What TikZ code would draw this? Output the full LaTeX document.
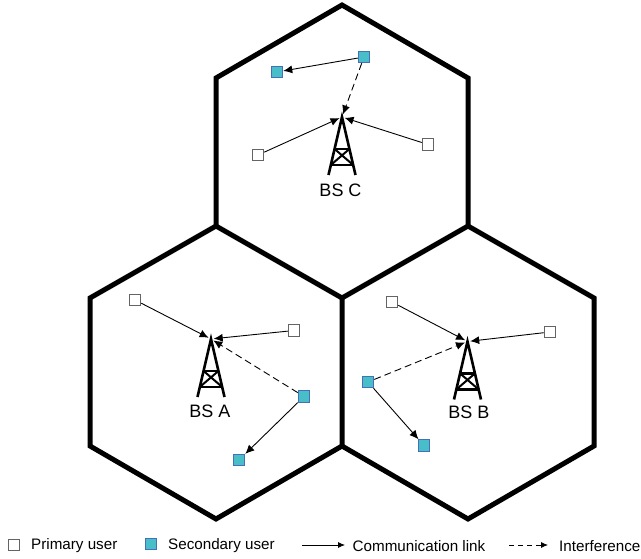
\documentclass[tikz,border=0pt]{standalone}
\usepackage{fontspec}
\setmainfont{Liberation Sans}
\usetikzlibrary{arrows.meta, calc}
\definecolor{sucolor}{RGB}{72,190,200}
\definecolor{suborder}{RGB}{70,110,185}
\definecolor{puborder}{RGB}{100,100,100}
\tikzset{
    pu/.style={draw=puborder, fill=white, line width=1pt, minimum size=11.5pt, inner sep=0pt},
    su/.style={draw=suborder, fill=sucolor, line width=1pt, minimum size=11.5pt, inner sep=0pt},
    apex/.style={circle, minimum size=5pt, inner sep=0pt},
    cell/.style={line width=5pt, line join=miter},
    link/.style={black, line width=0.9pt, -{Latex[length=9pt,width=8pt]}},
    interf/.style={link, dash pattern=on 7pt off 4pt},
    leglinkstyle/.style={black, line width=0.8pt, -{Latex[length=7pt,width=6pt]}},
    leginterfstyle/.style={leglinkstyle, dash pattern=on 5pt off 4pt},
    bslabel/.style={font=\fontsize{18}{18}\selectfont},
    legend/.style={font=\fontsize{15.2}{15.2}\selectfont, anchor=west, inner sep=0pt},
    tower/.pic={
        \draw[line width=2.6pt] (-13.5,58) -- (0,0) -- (13.5,58);
        \draw[line width=2.6pt] (-7.4,32) -- (7.4,32) (-11.2,48) -- (11.2,48);
        \draw[line width=2pt] (-7.4,32) -- (11.2,48) (7.4,32) -- (-11.2,48);
    }
}
\begin{document}
\begin{tikzpicture}[x=1pt, y=-1pt]
    \useasboundingbox (0,0) rectangle (641,559);

    % hexagon corners
    \coordinate (T)  at (342,5);
    \coordinate (CL) at (216,78);
    \coordinate (CR) at (468,78);
    \coordinate (ML) at (216,226);
    \coordinate (MR) at (468,226);
    \coordinate (O)  at (342,298);
    \coordinate (AL) at (90,298);
    \coordinate (BR) at (594,298);
    \coordinate (AD) at (90,446);
    \coordinate (BD) at (594,446);
    \coordinate (N)  at (342,446);
    \coordinate (AB) at (216,519);
    \coordinate (BB) at (468,519);

    \draw[cell] (T) -- (CR) -- (MR) -- (O) -- (ML) -- (CL) -- cycle;% Draw cell C
    \draw[cell] (ML) -- (AL) -- (AD) -- (AB) -- (N) -- (O);% Draw cell A
    \draw[cell] (MR) -- (BR) -- (BD) -- (BB) -- (N);% Draw cell B

    % cell C
    \pic at (342,117) {tower};
    \node[apex] (bsc) at (342,117) {};
    \node[bslabel] (labelc) at (340.5,190.5) {BS C};
    \node[su] (suc1) at (364,57) {};
    \node[su] (suc2) at (277,72) {};
    \node[pu] (puc1) at (258,155) {};
    \node[pu] (puc2) at (428,144.5) {};
    \draw[link] (suc1) -- (suc2);
    \draw[interf] (suc1) -- (bsc);
    \draw[link] (puc1) -- (bsc);
    \draw[link] (puc2) -- (bsc);

    % cell A
    \pic at (211,339) {tower};
    \node[apex] (bsa) at (211,339) {};
    \node[bslabel] (labela) at (210,411) {BS A};
    \node[pu] (pua1) at (135,300) {};
    \node[pu] (pua2) at (294,330.5) {};
    \node[su] (sua1) at (304,396.5) {};
    \node[su] (sua2) at (239,460) {};
    \draw[link] (pua1) -- (bsa);
    \draw[link] (pua2) -- (bsa);
    \draw[interf] (sua1) -- (bsa);
    \draw[link] (sua1) -- (sua2);

    % cell B
    \pic at (467.5,341.5) {tower};
    \node[apex] (bsb) at (467.5,341.5) {};
    \node[bslabel] (labelb) at (469,412.5) {BS B};
    \node[pu] (pub1) at (392,302) {};
    \node[pu] (pub2) at (550,332) {};
    \node[su] (sub1) at (368,382) {};
    \node[su] (sub2) at (424,445.5) {};
    \draw[link] (pub1) -- (bsb);
    \draw[link] (pub2) -- (bsb);
    \draw[interf] (sub1) -- (bsb);
    \draw[link] (sub1) -- (sub2);

    % legend
    \node[pu] (legpu) at (14,545) {};
    \node[legend] (legputext) at (31,546) {Primary user};
    \node[su] (legsu) at (151,544) {};
    \node[legend] (legsutext) at (168,546) {Secondary user};
    \coordinate (LinkStart) at (302,545);
    \coordinate (LinkEnd) at (345,545);
    \node[legend] (leglink) at (352.5,546) {Communication link};
    \coordinate (InterfStart) at (509,545);
    \coordinate (InterfEnd) at (548,545);
    \node[legend] (leginterf) at (559,546) {Interference};
    \draw[leglinkstyle] (LinkStart) -- (LinkEnd);
    \draw[leginterfstyle] (InterfStart) -- (InterfEnd);
\end{tikzpicture}
\end{document}
